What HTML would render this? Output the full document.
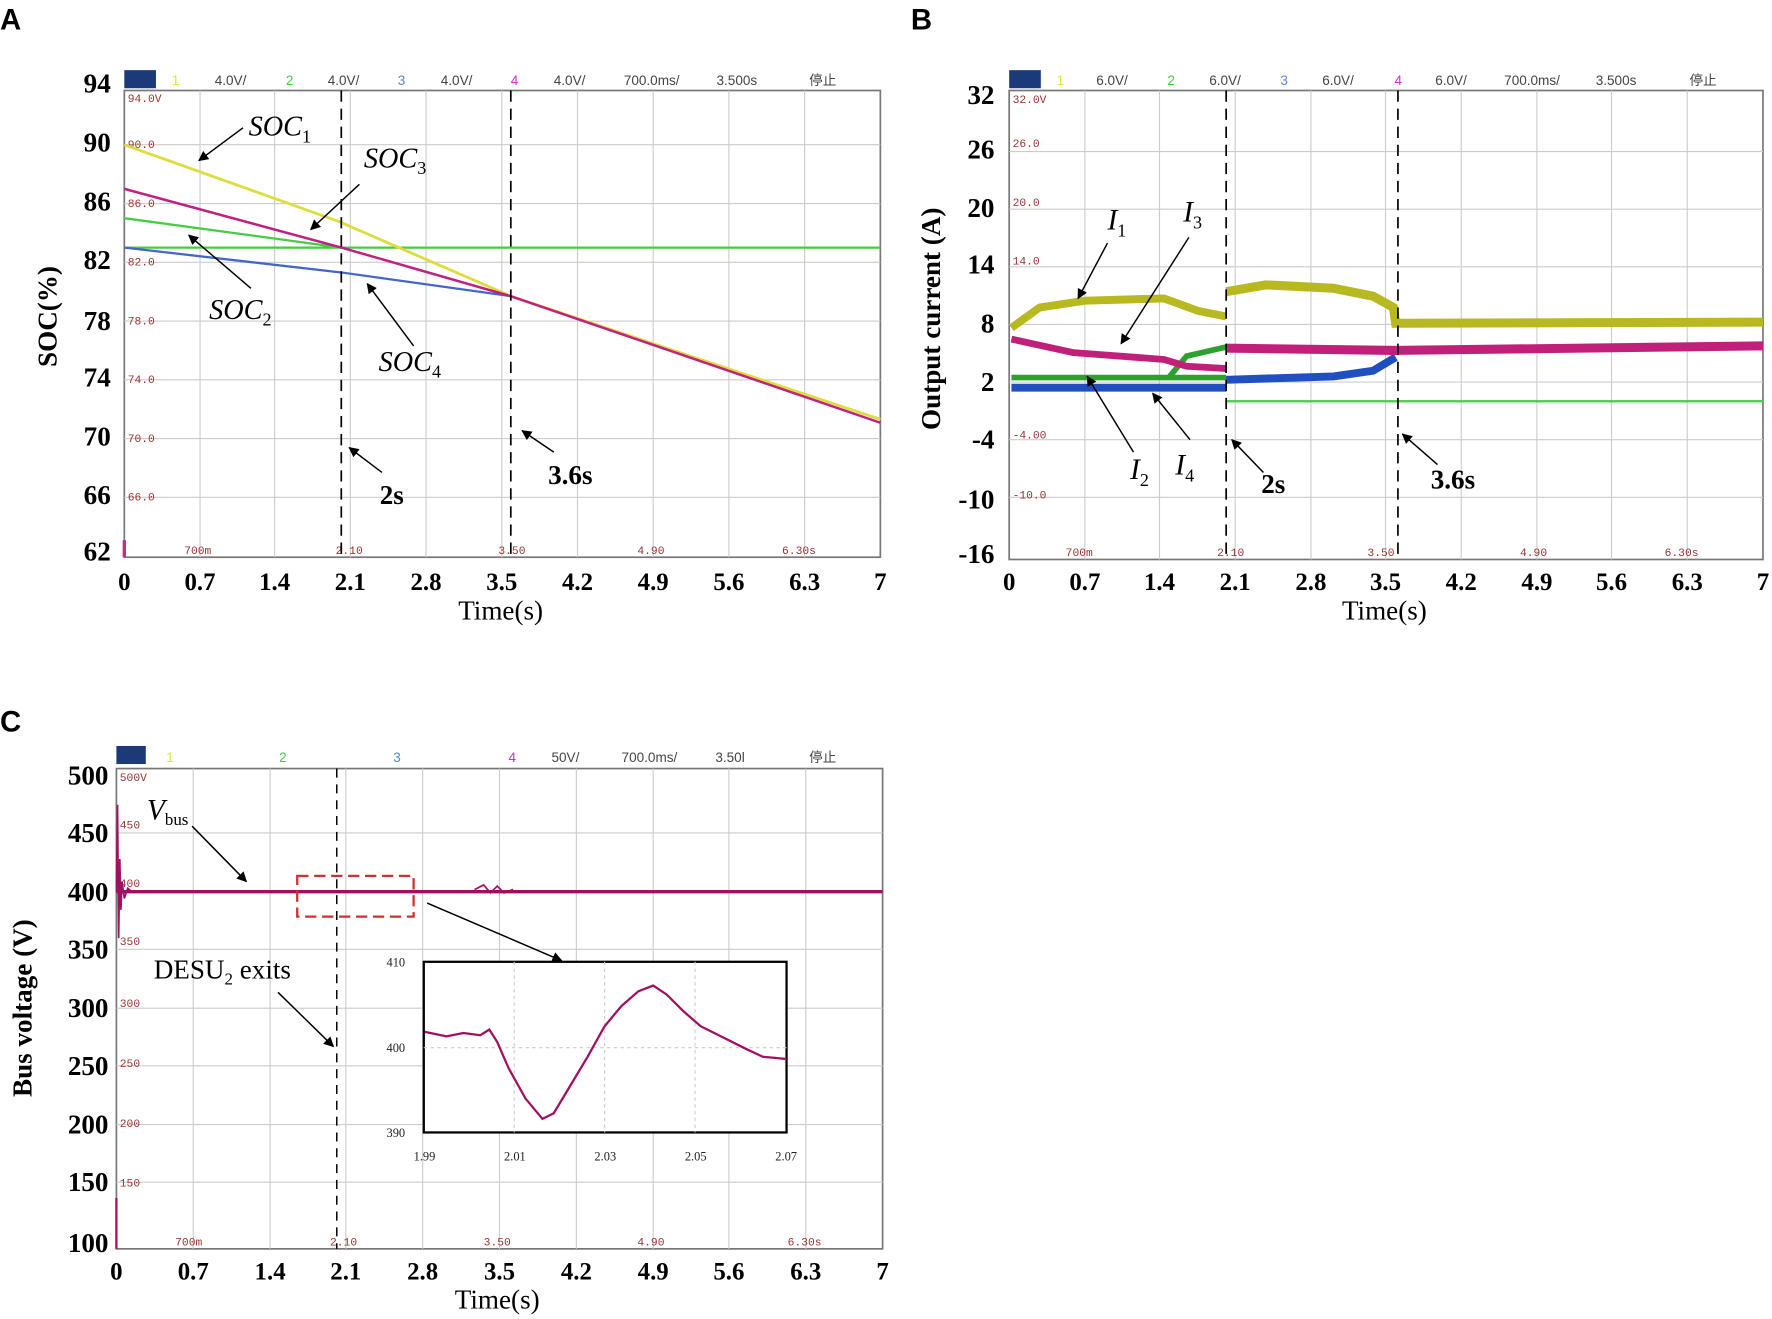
<!DOCTYPE html>
<html><head><meta charset="utf-8"><style>html,body{margin:0;padding:0;background:#fff}svg{display:block}</style></head><body>
<svg width="1772" height="1319" viewBox="0 0 1568 1167" xmlns="http://www.w3.org/2000/svg" font-family="'Liberation Serif',serif">
<defs>
<marker id="ar" viewBox="0 0 10 10" refX="9" refY="5" markerWidth="7" markerHeight="7" orient="auto"><path d="M0,0L10,5L0,10z" fill="#000"/></marker>
</defs>
<g font-family="'Liberation Sans',sans-serif" font-weight="bold" font-size="26">
<text x="0" y="26">A</text><text x="806" y="26">B</text><text x="0" y="647">C</text></g>

<!-- ===== Panel A ===== -->
<g>
<rect x="110" y="62" width="669" height="18" fill="#fff"/>
<rect x="110" y="62" width="28" height="16" fill="#1a3a7a"/>
<g font-family="'Liberation Sans','Noto Sans CJK SC',sans-serif" font-size="12" fill="#444">
<text x="152" y="75" fill="#e6e040">1</text><text x="190" y="75">4.0V/</text>
<text x="253" y="75" fill="#4c4">2</text><text x="290" y="75">4.0V/</text>
<text x="352" y="75" fill="#58c">3</text><text x="390" y="75">4.0V/</text>
<text x="452" y="75" fill="#c3c">4</text><text x="490" y="75">4.0V/</text>
<text x="552" y="75">700.0ms/</text><text x="634" y="75">3.500s</text><text x="716" y="75">停止</text></g>
<rect x="110" y="80" width="669" height="413" fill="#fff" stroke="#777" stroke-width="1.5"/>
<g stroke="#ccc" stroke-width="1">
<path d="M177,80V493M243,80V493M310,80V493M377,80V493M444,80V493M511,80V493M578,80V493M645,80V493M712,80V493"/>
<path d="M110,128H779M110,180H779M110,232H779M110,284H779M110,336H779M110,388H779M110,440H779"/></g>
<g font-family="'Liberation Mono',monospace" font-size="10" fill="#933">
<text x="113" y="90">94.0V</text><text x="113" y="131">90.0</text><text x="113" y="183">86.0</text><text x="113" y="235">82.0</text><text x="113" y="287">78.0</text><text x="113" y="339">74.0</text><text x="113" y="391">70.0</text><text x="113" y="443">66.0</text>
<text x="163" y="490">700m</text><text x="297" y="490">2.10</text><text x="441" y="490">3.50</text><text x="564" y="490">4.90</text><text x="692" y="490">6.30s</text></g>
<polyline points="110,219 302,219 779,219" fill="none" stroke="#4c4" stroke-width="2"/>
<polyline points="110,193 302,219" fill="none" stroke="#4c4" stroke-width="2"/>
<polyline points="110,219 302,241 452,262" fill="none" stroke="#4466cc" stroke-width="2"/>
<polyline points="110,128 300,196 452,262 779,371" fill="none" stroke="#dddd40" stroke-width="2.5"/>
<polyline points="110,167 302,219 452,262 779,374" fill="none" stroke="#c02080" stroke-width="2.2"/>
<path d="M302,80V493M452,80V493" stroke="#000" stroke-width="1.5" stroke-dasharray="10,6"/>
<path d="M110,478V493" stroke="#c03080" stroke-width="3"/>
<g font-size="24" font-weight="bold" text-anchor="end">
<text x="98" y="82">94</text><text x="98" y="134">90</text><text x="98" y="186">86</text><text x="98" y="238">82</text><text x="98" y="292">78</text><text x="98" y="342">74</text><text x="98" y="394">70</text><text x="98" y="446">66</text><text x="98" y="496">62</text></g>
<g font-size="22" font-weight="bold" text-anchor="middle">
<text x="110" y="522">0</text><text x="177" y="522">0.7</text><text x="243" y="522">1.4</text><text x="310" y="522">2.1</text><text x="377" y="522">2.8</text><text x="444" y="522">3.5</text><text x="511" y="522">4.2</text><text x="578" y="522">4.9</text><text x="645" y="522">5.6</text><text x="712" y="522">6.3</text><text x="779" y="522">7</text></g>
<text x="443" y="548" font-size="24" text-anchor="middle">Time(s)</text>
<text transform="translate(50,280) rotate(-90)" font-size="24" font-weight="bold" text-anchor="middle">SOC(%)</text>
<g font-size="25" font-style="italic">
<text x="220" y="120">SOC<tspan font-size="16" dy="6" font-style="normal">1</tspan></text>
<text x="322" y="148">SOC<tspan font-size="16" dy="6" font-style="normal">3</tspan></text>
<text x="185" y="282">SOC<tspan font-size="16" dy="6" font-style="normal">2</tspan></text>
<text x="335" y="328">SOC<tspan font-size="16" dy="6" font-style="normal">4</tspan></text></g>
<g stroke="#000" stroke-width="1.3" marker-end="url(#ar)" fill="none">
<path d="M215,113L176,142"/><path d="M318,163L275,203"/><path d="M222,255L167,208"/><path d="M366,306L325,251"/>
<path d="M338,418L309,396"/><path d="M490,400L462,381"/></g>
<text x="336" y="446" font-size="24" font-weight="bold">2s</text>
<text x="485" y="428" font-size="24" font-weight="bold">3.6s</text>
</g>

<!-- ===== Panel B ===== -->
<g>
<rect x="893" y="62" width="28" height="16" fill="#1a3a7a"/>
<g font-family="'Liberation Sans','Noto Sans CJK SC',sans-serif" font-size="12" fill="#444">
<text x="935" y="75" fill="#e6e040">1</text><text x="970" y="75">6.0V/</text>
<text x="1033" y="75" fill="#4c4">2</text><text x="1070" y="75">6.0V/</text>
<text x="1133" y="75" fill="#58c">3</text><text x="1170" y="75">6.0V/</text>
<text x="1234" y="75" fill="#c3c">4</text><text x="1270" y="75">6.0V/</text>
<text x="1331" y="75">700.0ms/</text><text x="1412" y="75">3.500s</text><text x="1495" y="75">停止</text></g>
<rect x="893" y="80" width="667" height="415" fill="#fff" stroke="#777" stroke-width="1.5"/>
<g stroke="#ccc" stroke-width="1">
<path d="M960,80V495M1026,80V495M1093,80V495M1160,80V495M1226,80V495M1293,80V495M1360,80V495M1426,80V495M1493,80V495"/>
<path d="M893,134H1560M893,185H1560M893,236H1560M893,287H1560M893,338H1560M893,389H1560M893,440H1560"/></g>
<g font-family="'Liberation Mono',monospace" font-size="10" fill="#933">
<text x="896" y="91">32.0V</text><text x="896" y="130">26.0</text><text x="896" y="182">20.0</text><text x="896" y="234">14.0</text><text x="896" y="388">-4.00</text><text x="896" y="441">-10.0</text>
<text x="943" y="492">700m</text><text x="1077" y="492">2.10</text><text x="1210" y="492">3.50</text><text x="1345" y="492">4.90</text><text x="1473" y="492">6.30s</text></g>
<polyline points="895,334 1085,334" fill="none" stroke="#2ea02e" stroke-width="5"/>
<polyline points="1035,333 1050,315 1085,307" fill="none" stroke="#2ea02e" stroke-width="5"/>
<polyline points="1085,355 1560,355" fill="none" stroke="#4c4" stroke-width="2"/>
<polyline points="895,343 1085,343" fill="none" stroke="#2050c0" stroke-width="7"/>
<polyline points="1085,336 1180,333 1215,328 1235,316" fill="none" stroke="#2050c0" stroke-width="7"/>
<polyline points="895,300 950,312 1030,318 1050,324 1085,326" fill="none" stroke="#c0207a" stroke-width="6"/>
<polyline points="1085,308 1235,310 1560,306" fill="none" stroke="#c0207a" stroke-width="8"/>
<polyline points="895,290 920,272 960,266 1030,264 1060,275 1085,280" fill="none" stroke="#b8b820" stroke-width="7"/>
<polyline points="1085,258 1120,252 1180,255 1215,262 1233,272 1235,286 1560,285" fill="none" stroke="#b8b820" stroke-width="8"/>
<path d="M1085,80V495M1237,80V495" stroke="#000" stroke-width="1.5" stroke-dasharray="10,6"/>
<g font-size="24" font-weight="bold" text-anchor="end">
<text x="880" y="92">32</text><text x="880" y="140">26</text><text x="880" y="192">20</text><text x="880" y="242">14</text><text x="880" y="294">8</text><text x="880" y="346">2</text><text x="880" y="397">-4</text><text x="880" y="450">-10</text><text x="880" y="498">-16</text></g>
<g font-size="22" font-weight="bold" text-anchor="middle">
<text x="893" y="522">0</text><text x="960" y="522">0.7</text><text x="1026" y="522">1.4</text><text x="1093" y="522">2.1</text><text x="1160" y="522">2.8</text><text x="1226" y="522">3.5</text><text x="1293" y="522">4.2</text><text x="1360" y="522">4.9</text><text x="1426" y="522">5.6</text><text x="1493" y="522">6.3</text><text x="1560" y="522">7</text></g>
<text x="1225" y="548" font-size="24" text-anchor="middle">Time(s)</text>
<text transform="translate(832,282) rotate(-90)" font-size="24" font-weight="bold" text-anchor="middle">Output current (A)</text>
<g font-size="26" font-style="italic">
<text x="980" y="203">I<tspan font-size="16" dy="6" font-style="normal">1</tspan></text>
<text x="1047" y="196">I<tspan font-size="16" dy="6" font-style="normal">3</tspan></text>
<text x="1000" y="424">I<tspan font-size="16" dy="6" font-style="normal">2</tspan></text>
<text x="1040" y="420">I<tspan font-size="16" dy="6" font-style="normal">4</tspan></text></g>
<g stroke="#000" stroke-width="1.3" marker-end="url(#ar)" fill="none">
<path d="M980,215L954,264"/><path d="M1052,210L992,304"/><path d="M1003,400L962,333"/><path d="M1053,389L1020,348"/>
<path d="M1118,418L1090,389"/><path d="M1272,411L1241,384"/></g>
<text x="1116" y="436" font-size="24" font-weight="bold">2s</text>
<text x="1266" y="432" font-size="24" font-weight="bold">3.6s</text>
</g>

<!-- ===== Panel C ===== -->
<g>
<rect x="103" y="660" width="26" height="16" fill="#1a3a7a"/>
<g font-family="'Liberation Sans','Noto Sans CJK SC',sans-serif" font-size="12" fill="#444">
<text x="147" y="674" fill="#e6e040">1</text><text x="247" y="674" fill="#4c4">2</text><text x="348" y="674" fill="#58c">3</text><text x="450" y="674" fill="#c3c">4</text>
<text x="488" y="674">50V/</text><text x="550" y="674">700.0ms/</text><text x="633" y="674">3.50l</text><text x="716" y="674">停止</text></g>
<rect x="103" y="680" width="678" height="425" fill="#fff" stroke="#777" stroke-width="1.5"/>
<g stroke="#ccc" stroke-width="1">
<path d="M171,680V1105M239,680V1105M306,680V1105M374,680V1105M442,680V1105M510,680V1105M578,680V1105M645,680V1105M713,680V1105"/>
<path d="M103,737H781M103,789H781M103,840H781M103,892H781M103,943H781M103,995H781M103,1046H781"/></g>
<g font-family="'Liberation Mono',monospace" font-size="10" fill="#933">
<text x="106" y="691">500V</text><text x="106" y="733">450</text><text x="106" y="785">400</text><text x="106" y="836">350</text><text x="106" y="891">300</text><text x="106" y="944">250</text><text x="106" y="997">200</text><text x="106" y="1050">150</text>
<text x="155" y="1102">700m</text><text x="292" y="1102">2.10</text><text x="428" y="1102">3.50</text><text x="564" y="1102">4.90</text><text x="697" y="1102">6.30s</text></g>
<polyline points="103,789 781,789" stroke="#a01060" stroke-width="3" fill="none"/>
<polyline points="103,789 104,712 105,830 106,760 107,805 108,780 110,795 113,786 118,790" stroke="#a01060" stroke-width="1.5" fill="none"/>
<path d="M420,787l8,-4 6,7 6,-6 6,6 8,-3" stroke="#a01060" stroke-width="1.5" fill="none"/>
<path d="M103,1060V1105" stroke="#a01060" stroke-width="2"/>
<path d="M298,680V1105" stroke="#000" stroke-width="1.3" stroke-dasharray="8,6"/>
<rect x="263" y="775" width="103" height="36" fill="none" stroke="#d03030" stroke-width="2" stroke-dasharray="10,5"/>
<g font-size="24" font-weight="bold" text-anchor="end">
<text x="96" y="694">500</text><text x="96" y="745">450</text><text x="96" y="797">400</text><text x="96" y="848">350</text><text x="96" y="900">300</text><text x="96" y="951">250</text><text x="96" y="1003">200</text><text x="96" y="1054">150</text><text x="96" y="1108">100</text></g>
<g font-size="22" font-weight="bold" text-anchor="middle">
<text x="103" y="1132">0</text><text x="171" y="1132">0.7</text><text x="239" y="1132">1.4</text><text x="306" y="1132">2.1</text><text x="374" y="1132">2.8</text><text x="442" y="1132">3.5</text><text x="510" y="1132">4.2</text><text x="578" y="1132">4.9</text><text x="645" y="1132">5.6</text><text x="713" y="1132">6.3</text><text x="781" y="1132">7</text></g>
<text x="440" y="1158" font-size="24" text-anchor="middle">Time(s)</text>
<text transform="translate(28,892) rotate(-90)" font-size="24" font-weight="bold" text-anchor="middle">Bus voltage (V)</text>
<text x="130" y="725" font-size="26" font-style="italic">V<tspan font-size="15" dy="5" font-style="normal">bus</tspan></text>
<text x="136" y="866" font-size="24">DESU<tspan font-size="15" dy="5">2</tspan><tspan dy="-5"> exits</tspan></text>
<g stroke="#000" stroke-width="1.3" marker-end="url(#ar)" fill="none">
<path d="M170,731L218,780"/><path d="M246,878L295,926"/><path d="M378,799L497,850"/></g>
<!-- inset -->
<rect x="375" y="851" width="321" height="151" fill="#fff" stroke="#000" stroke-width="2"/>
<path d="M455,851V1002M535,851V1002M615,851V1002M375,927H696" stroke="#ccc" stroke-dasharray="3,3"/>
<polyline points="376,913 395,917 410,914 425,916 433,911 440,922 450,945 465,972 480,990 490,985 505,960 520,935 535,908 550,890 565,877 578,872 590,880 605,895 620,908 640,918 660,928 675,935 696,937" fill="none" stroke="#a01060" stroke-width="2"/>
<g font-size="11" fill="#222">
<text x="342" y="855">410</text><text x="342" y="931">400</text><text x="342" y="1006">390</text>
<text x="366" y="1027">1.99</text><text x="446" y="1027">2.01</text><text x="526" y="1027">2.03</text><text x="606" y="1027">2.05</text><text x="686" y="1027">2.07</text></g>
</g>
</svg>
</body></html>
